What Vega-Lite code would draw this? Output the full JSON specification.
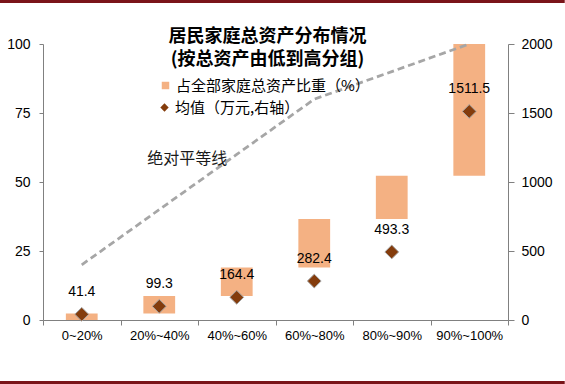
{
  "$schema": "https://vega.github.io/schema/vega-lite/v6.json",
  "width": 465,
  "height": 276,
  "autosize": "none",
  "padding": {"left": 43, "top": 44, "right": 57, "bottom": 64},
  "background": "white",
  "config": {"view": {"stroke": null}, "font": "Liberation Sans"},
  "title": {
    "text": ["居民家庭总资产分布情况", "(按总资产由低到高分组)"],
    "font": "Noto Sans CJK SC",
    "fontWeight": "bold",
    "fontSize": 18,
    "lineHeight": 23,
    "color": "#000000",
    "anchor": "middle",
    "dx": -8,
    "offset": -69
  },
  "datasets": {
    "main": [
      {"g": "0~20%", "lo": 0, "hi": 2.4, "cum": 20, "mean": 41.4},
      {"g": "20%~40%", "lo": 2.4, "hi": 8.7, "cum": 40, "mean": 99.3},
      {"g": "40%~60%", "lo": 8.7, "hi": 19.0, "cum": 60, "mean": 164.4},
      {"g": "60%~80%", "lo": 19.0, "hi": 36.6, "cum": 80, "mean": 282.4},
      {"g": "80%~90%", "lo": 36.6, "hi": 52.3, "cum": 90, "mean": 493.3},
      {"g": "90%~100%", "lo": 52.3, "hi": 100, "cum": 100, "mean": 1511.5}
    ],
    "ann": [
      {"g": "20%~40%", "v": 58.2, "label": "绝对平等线"}
    ]
  },
  "layer": [
    {
      "layer": [
        {
          "layer": [
            {
              "data": {"name": "main"},
              "mark": {"type": "bar", "width": {"band": 0.41}},
              "encoding": {
                "x": {
                  "field": "g", "type": "nominal", "sort": null,
                  "scale": {"paddingInner": 0, "paddingOuter": 0},
                  "axis": {
                    "title": null, "labelAngle": 0, "tickBand": "extent",
                    "domainColor": "#808080", "tickColor": "#808080", "tickSize": 5,
                    "labelFontSize": 13, "labelColor": "#000000", "labelPadding": 4,
                    "labelFont": "Liberation Sans"
                  }
                },
                "y": {
                  "field": "lo", "type": "quantitative",
                  "scale": {"domain": [0, 100]},
                  "axis": {
                    "title": null, "values": [0, 25, 50, 75, 100], "grid": false,
                    "domainColor": "#808080", "tickColor": "#808080", "tickSize": 4,
                    "labelPadding": 9, "labelFontSize": 14, "labelColor": "#000000",
                    "labelFont": "Liberation Sans"
                  }
                },
                "y2": {"field": "hi"},
                "fill": {
                  "datum": "占全部家庭总资产比重（%）", "type": "nominal",
                  "scale": {"range": ["#F4B183"]},
                  "legend": {
                    "title": null, "orient": "none", "legendX": 115, "legendY": 34,
                    "symbolType": "square", "symbolSize": 56, "symbolStrokeWidth": 0,
                    "labelFont": "Noto Sans CJK SC", "labelFontSize": 15, "labelLimit": 0,
                    "labelColor": "#000000", "labelOffset": 3, "padding": 0
                  }
                }
              }
            },
            {
              "data": {"name": "main"},
              "mark": {"type": "line", "stroke": "#A6A6A6", "strokeWidth": 2.75, "strokeDash": [7, 4]},
              "encoding": {
                "x": {"field": "g", "type": "nominal", "sort": null},
                "y": {"field": "cum", "type": "quantitative"}
              }
            },
            {
              "data": {"name": "ann"},
              "mark": {"type": "text", "font": "Noto Sans CJK SC", "fontSize": 16, "align": "center", "dx": 28, "color": "#1a1a1a"},
              "encoding": {
                "x": {"field": "g", "type": "nominal", "sort": null},
                "y": {"field": "v", "type": "quantitative"},
                "text": {"field": "label"}
              }
            }
          ]
        },
        {
          "layer": [
            {
              "data": {"name": "main"},
              "mark": {"type": "point", "filled": true, "fill": "#843C0C", "stroke": "#A6A6A6", "strokeWidth": 1, "size": 190, "opacity": 1},
              "encoding": {
                "x": {"field": "g", "type": "nominal", "sort": null},
                "y": {
                  "field": "mean", "type": "quantitative",
                  "scale": {"domain": [0, 2000]},
                  "axis": {
                    "orient": "right", "title": null, "values": [0, 500, 1000, 1500, 2000], "grid": false,
                    "format": "d",
                    "domainColor": "#808080", "tickColor": "#808080", "tickSize": 6,
                    "labelPadding": 7, "labelFontSize": 14, "labelColor": "#000000",
                    "labelFont": "Liberation Sans"
                  }
                },
                "shape": {
                  "datum": "均值（万元,右轴）", "type": "nominal",
                  "scale": {"range": ["diamond"]},
                  "legend": {
                    "title": null, "orient": "none", "legendX": 114, "legendY": 56,
                    "symbolSize": 70, "symbolFillColor": "#843C0C", "symbolStrokeColor": "#A6A6A6",
                    "symbolStrokeWidth": 1,
                    "labelFont": "Noto Sans CJK SC", "labelFontSize": 15, "labelLimit": 0,
                    "labelColor": "#000000", "labelOffset": 3, "padding": 0
                  }
                }
              }
            },
            {
              "data": {"name": "main"},
              "mark": {"type": "text", "fontSize": 14, "font": "Liberation Sans", "dy": -22, "color": "#000000"},
              "encoding": {
                "x": {"field": "g", "type": "nominal", "sort": null},
                "y": {"field": "mean", "type": "quantitative"},
                "text": {"field": "mean", "type": "quantitative", "format": ".1f"}
              }
            }
          ]
        }
      ],
      "resolve": {"scale": {"y": "independent"}}
    },
    {
      "data": {"values": [{}]},
      "layer": [
        {
          "mark": {"type": "rule", "stroke": "#7A1419", "strokeWidth": 3},
          "encoding": {
            "x": {"datum": -0.0931, "type": "quantitative", "scale": {"domain": [0, 1]}, "axis": null},
            "x2": {"datum": 1.122},
            "y": {"datum": 115.4, "type": "quantitative", "scale": {"domain": [0, 100]}, "axis": null}
          }
        },
        {
          "mark": {"type": "rule", "stroke": "#7A1419", "strokeWidth": 3},
          "encoding": {
            "x": {"datum": -0.0931, "type": "quantitative"},
            "x2": {"datum": 1.122},
            "y": {"datum": -22.6, "type": "quantitative"}
          }
        }
      ]
    }
  ],
  "resolve": {"scale": {"x": "independent", "y": "independent"}}
}
